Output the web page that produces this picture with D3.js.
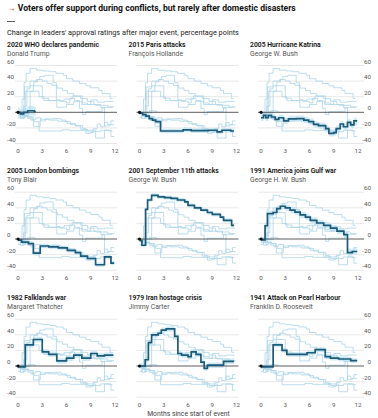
<!DOCTYPE html>
<html><head><meta charset="utf-8">
<script src="https://cdn.jsdelivr.net/npm/d3@7"></script>
<style>
body{margin:0;background:#fff;}
svg{display:block;font-family:Roboto,"Noto Sans",sans-serif;}
</style></head><body>
<svg id="c" width="378" height="418"></svg>
<script>
// ---- data ----
const events = ["2020 WHO declares pandemic","2015 Paris attacks","2005 Hurricane Katrina",
  "2005 London bombings","2001 September 11th attacks","1991 America joins Gulf war",
  "1982 Falklands war","1979 Iran hostage crisis","1941 Attack on Pearl Harbour"];
const leaders = ["Donald Trump","François Hollande","George W. Bush","Tony Blair","George W. Bush",
  "George H. W. Bush","Margaret Thatcher","Jimmy Carter","Franklin D. Roosevelt"];

// step series: [month, change in approval (pp)] held until next step
const trump = [[0,0],[0.3,-2],[0.7,0],[1.2,2],[2.0,1]];
const hollande = [[0,-1],[0.4,-3],[0.8,-5],[1.2,-8],[1.6,-10],[2.0,-12],[2.6,-24],[5.4,-22.5],[6.4,-23.5],[8.5,-23],[9.6,-25],[10.2,-23],[11.3,-24]];
const katrina = [[0,-7],[0.3,-4],[0.6,-7],[0.9,-4],[1.3,-6],[1.75,-9],[2.2,-7],[2.8,-11],[3.4,-8.5],[4.4,-8],[5.3,-10],[5.9,-12],[6.5,-15.5],[7.1,-17],[8.0,-21],[8.4,-27],[9.0,-26],[9.3,-21],[9.8,-15],[10.2,-18.5],[10.7,-13],[11.1,-16],[11.5,-11]];
const blair = [[0,-1.5],[0.45,-4],[1.3,-6],[1.9,-18],[2.75,-9],[3.8,-10],[5.0,-11.5],[6.1,-14.5],[7.1,-17.5],[7.75,-22],[8.6,-25],[9.6,-33],[10.7,-23],[11.5,-31]];
const sept11 = [[0,-2],[0.3,-8],[0.75,38],[1.0,50],[1.5,56],[2.3,54],[3.1,53],[3.9,52],[4.7,50],[5.6,47.5],[6.0,43],[6.8,40],[7.6,37],[8.4,34],[9.0,31.5],[10.0,28],[10.4,24],[11.4,17.5]];
const gulf = [[0,-1],[0.5,17],[0.8,32.5],[1.5,34],[1.95,39],[2.4,42],[3.0,40],[3.6,37],[4.2,34.5],[4.85,31],[5.5,28],[6.1,24],[6.9,20.5],[7.75,17.5],[8.6,14],[9.4,10],[10.25,5.5],[10.7,-17.5],[11.3,-16]];
const falklands = [[0,-1],[0.9,27],[1.9,34],[3.0,18],[3.8,15],[4.8,6.5],[6.0,10],[6.9,14],[7.9,10],[9.0,16],[9.8,13],[10.7,14]];
const iran = [[0,0],[0.7,8],[1.1,30],[1.5,40],[2.3,42],[2.7,46],[3.3,47.5],[4.35,38],[4.75,16],[5.2,14],[6.0,12],[6.4,18],[7.0,15],[7.6,5],[8.0,-3],[8.4,1],[10.4,6]];
const pearl = [[0,-1],[1.5,27],[2.6,20],[3.2,15],[5.7,17],[6.7,21],[7.95,12],[8.6,10],[9.6,9],[11.1,7]];

const seriesSteps = [trump, hollande, katrina, blair, sept11, gulf, falklands, iran, pearl];
const seriesEnd = [2.2, 11.7, 11.9, 11.9, 11.7, 11.9, 11.8, 11.7, 11.9];
const bandMargin = [6, 3, 4, 3, 2.5, 4, 3.5, 3.5, 3];
const yTicks = [60, 40, 20, 0, -20, -40];
const xTicks = [0, 3, 6, 9, 12];

// ---- layout ----
const colX = [18, 139.5, 261], panelW = 97;
const rowZero = [112.3, 239, 366];
const pxPer20 = 15.6;

const svg = d3.select("#c");
const INK = "#121212", DARK = "#1b5a78", LIGHT = "#acd4e8", BAND = "#c4e6f3";

// header
const h = svg.append("text").attr("x", 7).attr("y", 11).attr("font-size", 8.6).attr("font-weight", 700);
h.append("tspan").attr("fill", "#e3120b").text("→ ");
h.append("tspan").attr("fill", INK).text("Voters offer support during conflicts, but rarely after domestic disasters");
svg.append("line").attr("x1", 7).attr("x2", 15).attr("y1", 21.5).attr("y2", 21.5).attr("stroke", "#333").attr("stroke-width", 0.8);
svg.append("text").attr("x", 7).attr("y", 34.5).attr("font-size", 7.3).attr("fill", "#222")
  .text("Change in leaders' approval ratings after major event, percentage points");

function pts(i){
  const s = seriesSteps[i];
  return s.concat([[seriesEnd[i], s[s.length-1][1]]]);
}

seriesSteps.forEach((_, i) => {
  const col = i % 3, row = Math.floor(i / 3);
  const x0 = colX[col], z = rowZero[row];
  const x = d3.scaleLinear().domain([0, 12]).range([x0, x0 + panelW]);
  const y = d3.scaleLinear().domain([-40, 60]).range([z + 2 * pxPer20, z - 3 * pxPer20]);
  const g = svg.append("g");

  // titles
  g.append("text").attr("x", x0 - 11).attr("y", y(60) - 19).attr("font-size", 6.8).attr("font-weight", 600)
    .attr("fill", INK).text(events[i]);
  g.append("text").attr("x", x0 - 11).attr("y", y(60) - 10).attr("font-size", 6.8)
    .attr("fill", "#555").text(leaders[i]);

  // grid
  const gx1 = x0 - 3, gx2 = col === 2 ? 364 : x0 + 99;
  yTicks.filter(t => t !== 0).forEach(t => {
    g.append("line").attr("x1", gx1).attr("x2", gx2).attr("y1", y(t)).attr("y2", y(t))
      .attr("stroke", "#d6d6d6").attr("stroke-width", 0.6);
  });
  if (col !== 1) {
    yTicks.forEach(t => {
      g.append("text").attr("x", col === 0 ? 7 : 371).attr("y", y(t) - 2)
        .attr("text-anchor", col === 0 ? "start" : "end")
        .attr("font-size", 6.2).attr("fill", "#555").text(t);
    });
  }
  xTicks.forEach(t => {
    g.append("text").attr("x", x(t)).attr("y", y(-40) + 9.3).attr("text-anchor", "middle")
      .attr("font-size", 6.2).attr("fill", "#555").text(t);
  });

  // band for highlighted series
  const m = bandMargin[i];
  const area = d3.area().curve(d3.curveStepAfter)
    .x(d => x(d[0])).y0(d => y(d[1] - m)).y1(d => y(d[1] + m));
  g.append("path").attr("d", area(pts(i))).attr("fill", BAND).attr("opacity", 0.8);

  // other series, light
  const line = d3.line().curve(d3.curveStepAfter).x(d => x(d[0])).y(d => y(d[1]));
  seriesSteps.forEach((__, j) => {
    if (j === i) return;
    g.append("path").attr("d", line(pts(j))).attr("fill", "none")
      .attr("stroke", LIGHT).attr("stroke-width", 0.8);
  });

  // zero line
  g.append("line").attr("x1", gx1).attr("x2", gx2).attr("y1", y(0)).attr("y2", y(0))
    .attr("stroke", "#333").attr("stroke-width", 0.8);

  // highlighted series
  g.append("path").attr("d", line(pts(i))).attr("fill", "none")
    .attr("stroke", DARK).attr("stroke-width", 1.7).attr("stroke-linejoin", "miter");
  g.append("circle").attr("cx", x(0)).attr("cy", y(0)).attr("r", 1.6).attr("fill", "#111");
});

svg.append("text").attr("x", 188.5).attr("y", 415.5).attr("text-anchor", "middle")
  .attr("font-size", 6.8).attr("fill", "#444").text("Months since start of event");
</script>
</body></html>
